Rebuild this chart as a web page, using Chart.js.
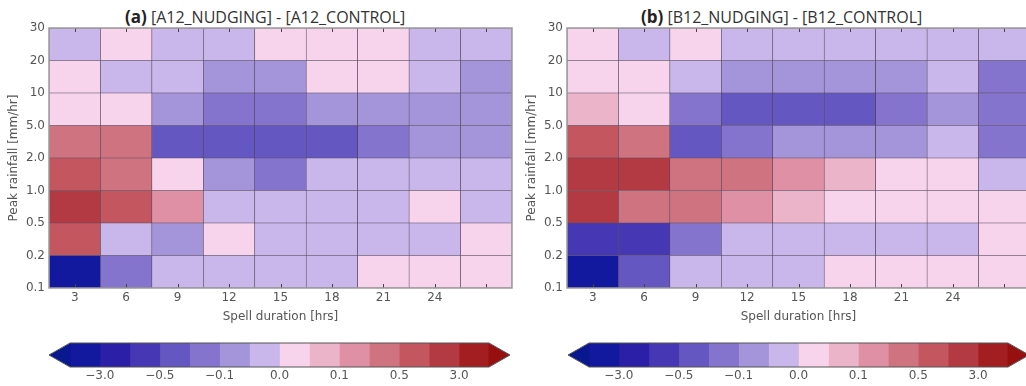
<!DOCTYPE html>
<html><head><meta charset="utf-8">
<script src="https://cdn.jsdelivr.net/npm/chart.js@4/dist/chart.umd.min.js"></script>
<style>
html,body{margin:0;padding:0;width:1026px;height:386px;overflow:hidden;background:#fff;}
canvas{position:absolute;}
.ptitle{position:absolute;font-family:"Open Sans","DejaVu Sans",sans-serif;font-size:16px;color:#333;white-space:nowrap;line-height:20px;}
.ptitle b{font-size:17px;color:#222;}
</style></head><body>
<div class="ptitle" style="left:125px;top:7px"><b>(a)</b> [A12_NUDGING] - [A12_CONTROL]</div>
<div class="ptitle" style="left:641px;top:7px"><b>(b)</b> [B12_NUDGING] - [B12_CONTROL]</div>
<canvas id="hA" width="520" height="330" style="left:0;top:0"></canvas>
<canvas id="hB" width="520" height="330" style="left:518px;top:0"></canvas>
<canvas id="cA" width="480" height="51" style="left:40px;top:335px"></canvas>
<canvas id="cB" width="480" height="51" style="left:559px;top:335px"></canvas>
<script>
// Categories / tick labels
const durationLabels = ['3','6','9','12','15','18','21','24',''];
const rainfallTickLabels = ['0.1','0.2','0.5','1.0','2.0','5.0','10','20','30'];
// Colour levels (contour boundaries) and colours of each interval
const levels = [-5,-3,-1,-0.5,-0.2,-0.1,-0.05,0,0.05,0.1,0.2,0.5,1,3,5];
const levelColors = ['#13199e','#2a1fa6','#4637b4','#6557c2','#8474ce','#a494da','#c9b7eb',
                     '#f7d4ec','#ecb4c9','#df90a4','#d07381','#c3565f','#b33a42','#a21e21'];
const extendLowColor = '#0a188f';
const extendHighColor = '#971010';
const colorbarTickValues = [-3,-0.5,-0.1,0,0.1,0.5,3];
const colorbarTickLabels = ['\u22123.0','\u22120.5','\u22120.1','0.0','0.1','0.5','3.0'];
// Differences (nudging - control), rows from 0.1-0.2 mm/hr (bottom) to 20-30 mm/hr (top)
const diffA = [
  [-4,   -0.15,-0.02,-0.02,-0.02,-0.02, 0.02, 0.02, 0.02], // 0.1-0.2
  [0.7,  -0.02,-0.07, 0.02,-0.02,-0.02,-0.02,-0.02, 0.02], // 0.2-0.5
  [2,     0.7,  0.15,-0.02,-0.02,-0.02,-0.02, 0.02,-0.02], // 0.5-1
  [0.7,   0.3,  0.02,-0.07,-0.15,-0.02,-0.02,-0.02,-0.02], // 1-2
  [0.3,   0.3, -0.3, -0.3, -0.3, -0.3, -0.15,-0.07,-0.07], // 2-5
  [0.02,  0.02,-0.07,-0.15,-0.15,-0.07,-0.07,-0.07,-0.07], // 5-10
  [0.02, -0.02,-0.02,-0.07,-0.07, 0.02, 0.02,-0.02,-0.07], // 10-20
  [-0.02, 0.02,-0.02,-0.02, 0.02, 0.02, 0.02,-0.02,-0.02]  // 20-30
];
const diffB = [
  [-4,   -0.3, -0.02,-0.02,-0.02, 0.02, 0.02, 0.02, 0.02], // 0.1-0.2
  [-0.7, -0.7, -0.15,-0.02,-0.02,-0.02,-0.02,-0.02, 0.02], // 0.2-0.5
  [2,     0.3,  0.3,  0.15, 0.07, 0.02, 0.02, 0.02, 0.02], // 0.5-1
  [2,     2,    0.3,  0.3,  0.15, 0.07, 0.02, 0.02,-0.02], // 1-2
  [0.7,   0.3, -0.3, -0.15,-0.07,-0.07,-0.07,-0.02,-0.15], // 2-5
  [0.07,  0.02,-0.15,-0.3, -0.3, -0.3, -0.15,-0.07,-0.15], // 5-10
  [0.02,  0.02,-0.02,-0.07,-0.07,-0.07,-0.07,-0.02,-0.15], // 10-20
  [0.02, -0.02, 0.02,-0.02,-0.02,-0.02,-0.02,-0.02,-0.02]  // 20-30
];

function colorFor(v){
  if (v < levels[0]) return extendLowColor;
  for (let k = 0; k < levelColors.length; k++) if (v < levels[k+1]) return levelColors[k];
  return extendHighColor;
}
const tickFont = {family:'DejaVu Sans', size:12};
const labelFont = {family:'DejaVu Sans', size:12};
const txtColor = '#555';

const framePlugin = {
  id:'frame',
  afterDatasetsDraw(chart){
    const {ctx, chartArea:a, scales:{x}} = chart;
    ctx.save();
    ctx.strokeStyle = '#444'; ctx.lineWidth = 1;
    for (let i = 0; i < x.ticks.length; i++){
      const px = Math.round(x.getPixelForTick(i)) + 0.5;
      ctx.beginPath();
      ctx.moveTo(px, a.top); ctx.lineTo(px, a.top + 4);
      ctx.moveTo(px, a.bottom); ctx.lineTo(px, a.bottom - 4);
      ctx.stroke();
    }
    ctx.strokeStyle = '#9a9a9a'; ctx.lineWidth = 1.5;
    ctx.strokeRect(a.left, a.top, a.right - a.left, a.bottom - a.top);
    ctx.restore();
  }
};

function heatmap(id, diff){
  const datasets = diff.map((row, r) => ({
    data: row.map(() => [r, r + 1]),
    backgroundColor: row.map(colorFor),
    borderColor: 'rgba(45,30,55,0.75)',
    borderWidth: 0.6,
    borderSkipped: false,
    barPercentage: 1, categoryPercentage: 1, grouped: false
  }));
  new Chart(document.getElementById(id), {
    type:'bar',
    data:{labels: durationLabels, datasets},
    options:{
      responsive:false, animation:false,
      layout:{padding:{top:28, right:8, left:0, bottom:0}},
      plugins:{legend:{display:false}, tooltip:{enabled:false}},
      scales:{
        x:{type:'category', offset:true,
           grid:{display:false, drawTicks:false}, border:{display:false},
           ticks:{font:tickFont, color:txtColor, padding:3, maxRotation:0, autoSkip:false},
           title:{display:true, text:'Spell duration [hrs]', font:labelFont, color:txtColor, padding:{top:0, bottom:6}},
           afterFit(s){ s.height = 42; }},
        y:{type:'linear', min:0, max:rainfallTickLabels.length - 1,
           grid:{display:false, drawTicks:false}, border:{display:false},
           ticks:{stepSize:1, font:tickFont, color:txtColor, padding:4, callback:(v) => rainfallTickLabels[v]},
           title:{display:true, text:'Peak rainfall [mm/hr]', font:labelFont, color:txtColor, padding:{top:7, bottom:0}},
           afterFit(s){ s.width = 49; }}
      }
    },
    plugins:[framePlugin]
  });
}

const arrowPlugin = {
  id:'arrows',
  afterDatasetsDraw(chart){
    const {ctx, chartArea:a, scales:{x}} = chart;
    const x0 = x.getPixelForValue(0), x1 = x.getPixelForValue(levelColors.length);
    const ym = (a.top + a.bottom) / 2;
    ctx.save();
    ctx.fillStyle = extendLowColor;
    ctx.beginPath(); ctx.moveTo(x0 + 0.5, a.top); ctx.lineTo(a.left, ym); ctx.lineTo(x0 + 0.5, a.bottom); ctx.closePath(); ctx.fill();
    ctx.fillStyle = extendHighColor;
    ctx.beginPath(); ctx.moveTo(x1 - 0.5, a.top); ctx.lineTo(a.right, ym); ctx.lineTo(x1 - 0.5, a.bottom); ctx.closePath(); ctx.fill();
    ctx.strokeStyle = '#555'; ctx.lineWidth = 1;
    ctx.beginPath();
    ctx.moveTo(a.left, ym); ctx.lineTo(x0, a.top); ctx.lineTo(x1, a.top); ctx.lineTo(a.right, ym);
    ctx.lineTo(x1, a.bottom); ctx.lineTo(x0, a.bottom); ctx.closePath(); ctx.stroke();
    ctx.restore();
  }
};

function colorbar(id){
  new Chart(document.getElementById(id), {
    type:'bar',
    data:{labels:[''], datasets: levelColors.map((c, i) => ({
      data:[[i, i + 1]], backgroundColor:c, borderWidth:0,
      barPercentage:1, categoryPercentage:1, grouped:false }))},
    options:{
      indexAxis:'y', responsive:false, animation:false,
      layout:{padding:{top:8, left:9, right:10, bottom:0}},
      plugins:{legend:{display:false}, tooltip:{enabled:false}},
      scales:{
        y:{display:false},
        x:{type:'linear', min:-0.7, max:levelColors.length + 0.7,
           grid:{display:false, drawTicks:false}, border:{display:false},
           afterBuildTicks(s){ s.ticks = colorbarTickValues.map(v => ({value: levels.indexOf(v)})); },
           ticks:{font:tickFont, color:txtColor, padding:2, maxRotation:0, autoSkip:false,
                  callback:(v, i) => colorbarTickLabels[i]},
           afterFit(s){ s.height = 19; }}
      }
    },
    plugins:[arrowPlugin]
  });
}

heatmap('hA', diffA);
heatmap('hB', diffB);
colorbar('cA');
colorbar('cB');
</script>
</body></html>
